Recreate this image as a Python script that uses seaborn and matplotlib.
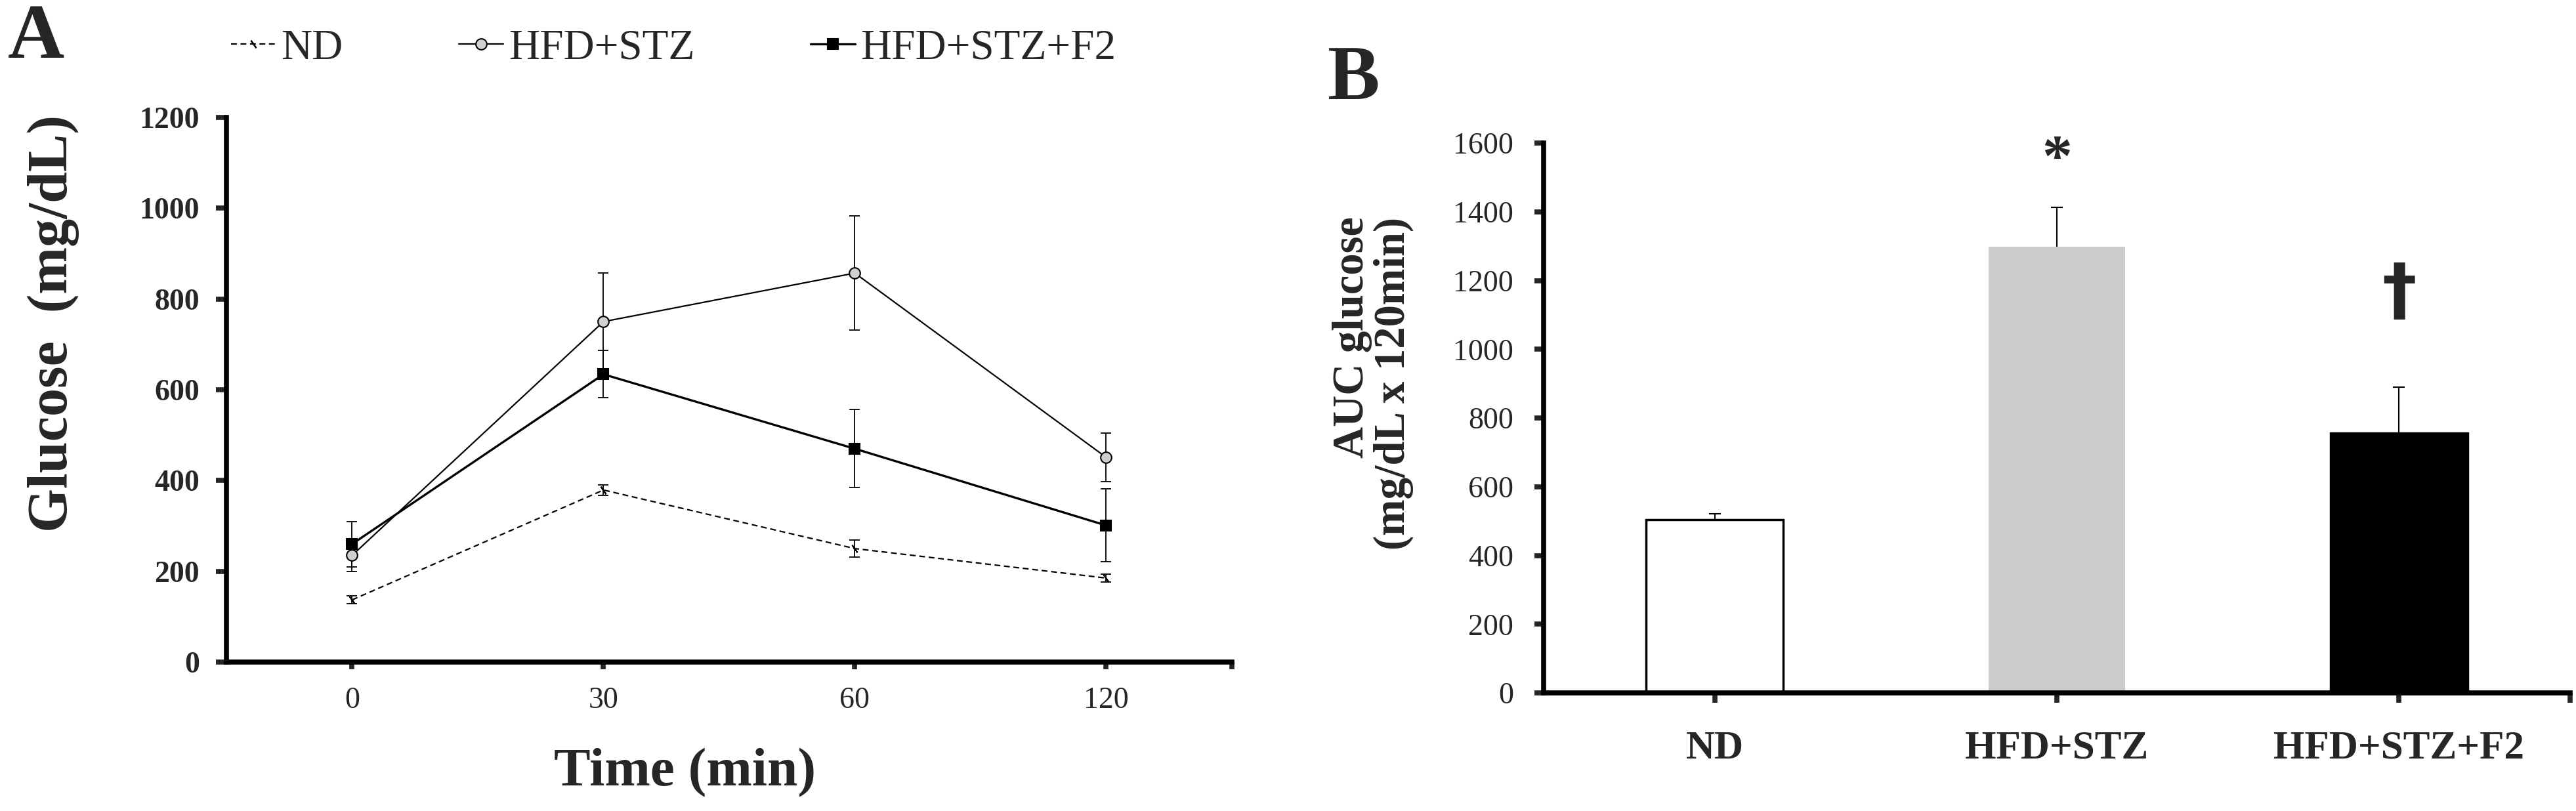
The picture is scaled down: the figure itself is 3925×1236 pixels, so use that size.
import matplotlib
matplotlib.use("Agg")
import matplotlib.pyplot as plt
import numpy as np
import pandas as pd
import seaborn as sns

# OGTT time points and group means / SEM (mg/dL)
times = ["0", "30", "60", "120"]
nd_mean = [137, 379, 250, 185]
nd_sem = [9, 12, 19, 8]
hfd_mean = [235, 750, 857, 451]
hfd_sem = [35, 108, 126, 54]
f2_mean = [260, 634, 470, 301]
f2_sem = [50, 52, 86, 80]

# AUC glucose (mg/dL x 120min)
auc_groups = ["ND", "HFD+STZ", "HFD+STZ+F2"]
auc_mean = [505, 1299, 756]
auc_sem = [17, 113, 134]
auc_marks = ["", "*", "\u2020"]

sns.set_style("ticks")
plt.rcParams["font.family"] = ["Liberation Serif", "DejaVu Serif"]

fig = plt.figure(figsize=(39.25, 12.36), dpi=100)
ax_a = fig.add_axes([0.0879, 0.1837, 0.3903, 0.6715])
ax_b = fig.add_axes([0.5992, 0.1456, 0.3985, 0.6780])

# ---- panel A : glucose curves
pos = np.arange(len(times))
series = [
    ("ND", nd_mean, nd_sem, dict(marker=(2, 2, 35), markersize=10, markerfacecolor="black",
                                 linestyle=(0, (4, 2.5)), linewidth=1.6)),
    ("HFD+STZ", hfd_mean, hfd_sem, dict(marker="o", markersize=12, markerfacecolor="#d0d0d0",
                                        linestyle="-", linewidth=1.6)),
    ("HFD+STZ+F2", f2_mean, f2_sem, dict(marker="s", markersize=12, markerfacecolor="black",
                                         linestyle="-", linewidth=2.4)),
]
handles = []
for name, mean, sem, kw in series:
    ax_a.errorbar(pos, mean, yerr=sem, fmt="none", ecolor="black", elinewidth=1.3,
                  capsize=6, capthick=1.3, zorder=2)
    df = pd.DataFrame({"pos": pos, "glucose": mean})
    sns.lineplot(data=df, x="pos", y="glucose", ax=ax_a, color="black",
                 markeredgecolor="black", markeredgewidth=1.5, label=name, zorder=3, **kw)
    handles.append(ax_a.lines[-1])

ax_a.set_xlim(-0.5, 3.5)
ax_a.set_ylim(0, 1200)
ax_a.set_xticks(pos)
ax_a.set_xticklabels(times)
ax_a.set_xticks([3.5], minor=True)
ax_a.set_yticks(range(0, 1201, 200))
ax_a.set_xlabel("")
ax_a.set_ylabel("")
for lab in ax_a.get_yticklabels():
    lab.set_fontweight("bold")
ax_a.tick_params(axis="y", length=11.5, width=5.5, pad=18, labelsize=33)
ax_a.tick_params(axis="x", which="both", length=8, width=5.5, pad=19, labelsize=33)
ax_a.get_legend().remove()

fig.legend(handles=handles, labels=[s[0] for s in series], loc="center left",
           bbox_to_anchor=(352 / 3925, 1 - 74 / 1236), ncol=3, frameon=False,
           fontsize=47, handlelength=1.05, handletextpad=0.12, columnspacing=2.7,
           borderpad=0, borderaxespad=0)

fig.text(1044 / 3925, 1 - 1178 / 1236, "Time (min)", ha="center", va="center",
         fontsize=60, fontweight="bold")
fig.text(81 / 3925, 1 - 493 / 1236, "Glucose  (mg/dL)", rotation=90, ha="center",
         va="center", fontsize=62, fontweight="bold")
fig.text(12 / 3925, 1 - 88 / 1236, "A", fontsize=86, fontweight="bold", va="baseline")

# ---- panel B : AUC bars
bar_colors = ["white", "#cbcbcb", "black"]
sns.barplot(x=auc_groups, y=auc_mean, hue=auc_groups, palette=bar_colors, legend=False,
            width=0.4, ax=ax_b, saturation=1, zorder=2)
for patch, c in zip(ax_b.patches, bar_colors):
    patch.set_edgecolor("black")
    patch.set_linewidth(0 if c == "#cbcbcb" else 2.5)

# upper-only error bars: stem from the bar top plus a cap at the end
bx = np.arange(len(auc_groups))
btop = np.array(auc_mean) + np.array(auc_sem)
ax_b.vlines(bx, auc_mean, btop, color="black", linewidth=1.5, zorder=3)
ax_b.plot(bx, btop, linestyle="none", marker="_", markersize=13, markeredgewidth=1.5,
          color="black", zorder=3)

ax_b.text(1, 1505, auc_marks[1], ha="center", va="baseline", fontsize=66, fontweight="bold")
ax_b.text(2, 1105, auc_marks[2], ha="center", va="baseline", fontsize=76,
          fontweight="bold", family="DejaVu Sans")

ax_b.set_xlim(-0.5, 2.5)
ax_b.set_ylim(0, 1600)
ax_b.set_yticks(range(0, 1601, 200))
ax_b.set_xticks([2.5], minor=True)
for lab in ax_b.get_xticklabels():
    lab.set_fontweight("bold")
ax_b.tick_params(axis="y", length=10, width=5.5, pad=23, labelsize=33)
ax_b.tick_params(axis="x", which="both", length=11, width=5.5, pad=30, labelsize=44)
ax_b.set_ylabel("")

fig.text(2092 / 3925, 1 - 584 / 1236, "AUC glucose\n(mg/dL x 120min)", rotation=90,
         ha="center", va="center", multialignment="right", linespacing=1.05,
         fontsize=48, fontweight="bold")
fig.text(2022 / 3925, 1 - 151 / 1236, "B", fontsize=86, fontweight="bold", va="baseline")

for ax in (ax_a, ax_b):
    sns.despine(ax=ax)
    for side in ("left", "bottom"):
        ax.spines[side].set_linewidth(5.5)
        ax.spines[side].set_color("black")

fig.savefig("out.png", dpi=100)
